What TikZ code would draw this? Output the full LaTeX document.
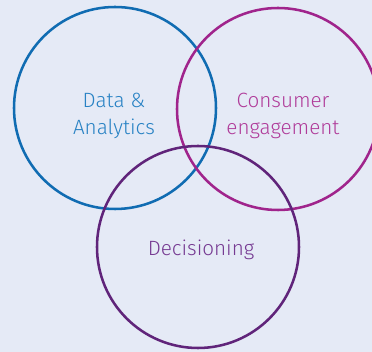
\documentclass[tikz,border=0pt]{standalone}
\usepackage{fontspec}
\setmainfont{Fira Sans Light}
\definecolor{bgcol}{RGB}{229,234,246}
\definecolor{datablue}{RGB}{16,108,178}
\definecolor{datatext}{RGB}{40,130,196}
\definecolor{engmag}{RGB}{160,36,140}
\definecolor{engtext}{RGB}{176,60,154}
\definecolor{decpurple}{RGB}{96,36,122}
\definecolor{dectext}{RGB}{118,58,146}
\tikzset{every picture/.style={line width=0.75pt}}

\begin{document}
\begin{tikzpicture}[x=0.75pt,y=0.75pt,yscale=-1,xscale=1]
	%background
	\fill [bgcol] (0,0) rectangle (372,352);
	\useasboundingbox (0,0) rectangle (372,352);
	
	%Circles
	\draw [color=datablue, line width=1.9pt] (115,108) circle (101);
	\draw [color=engmag, line width=1.9pt] (278,109) circle (101);
	\draw [color=decpurple, line width=1.9pt] (198,247) circle (101);
	
	%Labels
	\draw (114,116) node [align=center, text=datatext, font=\fontsize{15.5}{20.5}\selectfont, inner sep=0.75pt] (data) {Data \&\\Analytics};
	\draw (283,116) node [align=center, text=engtext, font=\fontsize{15.5}{20.5}\selectfont, inner sep=0.75pt] (engage) {Consumer\\engagement};
	\draw (201,250) node [align=center, text=dectext, font=\fontsize{15.5}{20.5}\selectfont, inner sep=0.75pt] (decide) {Decisioning};
	
\end{tikzpicture}
\end{document}
